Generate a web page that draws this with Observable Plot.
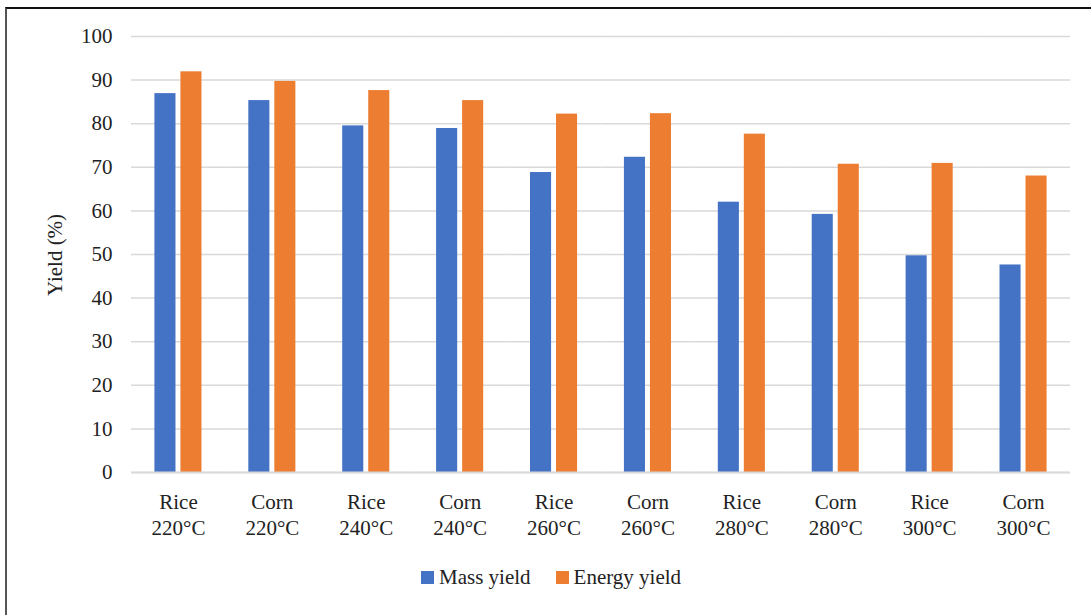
<!DOCTYPE html>
<html><head><meta charset="utf-8">
<script src="https://cdn.jsdelivr.net/npm/d3@7"></script>
<script src="https://cdn.jsdelivr.net/npm/@observablehq/plot@0.6"></script>
<style>
body{margin:0;background:#fff;font-family:"Liberation Serif",serif;overflow:hidden}
#frame{position:absolute;left:5px;top:7px;width:1100px;height:620px;border-left:2px solid #555;border-top:2px solid #111;box-sizing:border-box}
#chart{position:absolute;left:0;top:0}
#legend{position:absolute;top:565px;left:421px;display:flex;align-items:center;font-family:"Liberation Serif",serif;font-size:21px;color:#222;white-space:nowrap}
#legend .sw{display:inline-block;width:13px;height:13px;margin-right:5px}
#legend .item{display:flex;align-items:center;margin-right:25px}
#ylabel{position:absolute;left:55px;top:255px;transform:translate(-50%,-50%) rotate(-90deg);font-family:"Liberation Serif",serif;font-size:21px;color:#222;white-space:nowrap}
</style></head>
<body>
<div id="frame"></div>
<div id="chart"></div>
<div id="ylabel"></div>
<div id="legend"></div>
<script>
const groups = ["Rice 220°C","Corn 220°C","Rice 240°C","Corn 240°C","Rice 260°C","Corn 260°C","Rice 280°C","Corn 280°C","Rice 300°C","Corn 300°C"];
const series = ["Mass yield","Energy yield"];
const colors = ["#4472C4","#ED7D31"];
const massYield = [86.9, 85.3, 79.5, 78.9, 68.8, 72.3, 62.0, 59.2, 49.7, 47.6];
const energyYield = [91.9, 89.7, 87.6, 85.3, 82.2, 82.3, 77.6, 70.7, 70.9, 68.0];
const yTicks = [0,10,20,30,40,50,60,70,80,90,100];
const yTitle = "Yield (%)";

const data = [];
groups.forEach((g,i) => {
  data.push({group:g, series:series[0], value:massYield[i]});
  data.push({group:g, series:series[1], value:energyYield[i]});
});

const chart = Plot.plot({
  width: 1091,
  height: 560,
  marginLeft: 131,
  marginRight: 21,
  marginTop: 36,
  marginBottom: 88,
  style: {fontFamily: '"Liberation Serif", serif', fontSize: "21px", color: "#222", background: "transparent"},
  fx: {domain: groups, padding: 0, round: false, label: null, axis: null},
  x: {domain: series, paddingInner: 0.19, paddingOuter: 0.9, round: false, axis: null},
  y: {domain: [0,100], ticks: yTicks, label: null, axis: null},
  color: {domain: series, range: colors},
  marks: [
    Plot.gridY(yTicks, {stroke: "#d9d9d9", strokeOpacity: 1, strokeWidth: 1.5}),
    Plot.axisY(yTicks, {tickSize: 0, tickPadding: 19, fontSize: 21, label: null}),
    Plot.axisFx({anchor: "bottom", tickSize: 0, tickPadding: 18, fontSize: 21, tickFormat: d => d.replace(" ", "\n"), lineHeight: 1.25, label: null}),
    Plot.barY(data, {fx: "group", x: "series", y: "value", fill: "series"}),
    Plot.ruleY([0], {stroke: "#d9d9d9", strokeWidth: 2})
  ]
});
document.getElementById("chart").appendChild(chart);
document.getElementById("ylabel").textContent = yTitle;

const legend = document.getElementById("legend");
series.forEach((s,i) => {
  const item = document.createElement("span");
  item.className = "item";
  const sw = document.createElement("span");
  sw.className = "sw";
  sw.style.background = colors[i];
  item.appendChild(sw);
  item.appendChild(document.createTextNode(s));
  legend.appendChild(item);
});
</script>
</body></html>
